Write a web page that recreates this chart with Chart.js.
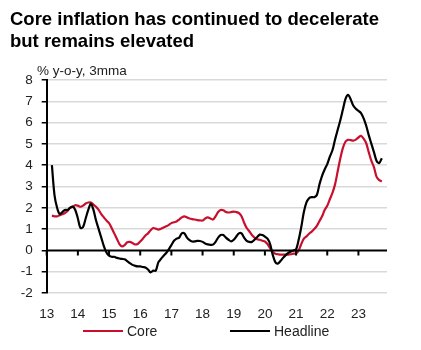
<!DOCTYPE html>
<html>
<head>
<meta charset="utf-8">
<script src="https://cdn.jsdelivr.net/npm/chart.js@4.4.1/dist/chart.umd.min.js"></script>
<style>
  html, body { margin: 0; padding: 0; background: #fff; }
  body { width: 421px; height: 350px; position: relative; overflow: hidden; font-family: "Liberation Sans", Arial, sans-serif; color: #111; }
  #title { position: absolute; left: 10px; top: 8px; font-size: 18.5px; font-weight: bold; line-height: 21.7px; color: #000; }
  #unit { position: absolute; left: 37px; top: 63px; font-size: 13.5px; color: #222; }
  #wrap { position: absolute; left: 0; top: 0; width: 421px; height: 350px; }
  .leg { position: absolute; top: 323px; font-size: 14px; color: #222; line-height: 16px; }
  .leg span { display: inline-block; width: 40px; height: 2px; vertical-align: middle; margin-right: 4px; position: relative; top: -1px; }
</style>
</head>
<body>
<div id="wrap"><canvas id="infl"></canvas></div>
<div id="title">Core inflation has continued to decelerate<br>but remains elevated</div>
<div id="unit">% y-o-y, 3mma</div>
<div class="leg" style="left:83px"><span style="background:#c8102e"></span>Core</div>
<div class="leg" style="left:230px"><span style="background:#000"></span>Headline</div>
<script>
// monthly, Jan 2013 .. Dec 2023
const years = ['13', '14', '15', '16', '17', '18', '19', '20', '21', '22', '23'];

const core = [null, null,
  1.63, 1.6, 1.6, 1.65, 1.7, 1.75, 1.85, 2.0, 2.05, 2.12,
  2.1, 2.05, 2.1, 2.2, 2.25, 2.25, 2.15, 2.05, 1.9, 1.7, 1.55, 1.4,
  1.28, 1.05, 0.8, 0.55, 0.3, 0.19, 0.25, 0.38, 0.4, 0.35, 0.28, 0.3,
  0.42, 0.55, 0.7, 0.8, 0.95, 1.05, 1.02, 0.98, 1.02, 1.08, 1.13, 1.2,
  1.28, 1.32, 1.36, 1.45, 1.55, 1.6, 1.55, 1.5, 1.47, 1.45, 1.42, 1.41,
  1.4, 1.5, 1.55, 1.5, 1.45, 1.6, 1.8, 1.9, 1.88, 1.8, 1.78, 1.8,
  1.82, 1.8, 1.75, 1.6, 1.3, 1.05, 0.9, 0.72, 0.6, 0.52, 0.5, 0.45,
  0.42, 0.3, 0.1, -0.08, -0.16, -0.18, -0.2, -0.2, -0.2, -0.2, -0.18, -0.15,
  -0.15, 0.0, 0.3, 0.55, 0.66, 0.78, 0.88, 1.0, 1.15, 1.38, 1.6, 1.9,
  2.1, 2.4, 2.7, 3.1, 3.7, 4.3, 4.8, 5.1, 5.19, 5.18, 5.15, 5.2,
  5.3, 5.38, 5.25, 5.03, 4.6, 4.2, 3.9, 3.45, 3.3, 3.24, null, null];

const headline = [null, null,
  4.0, 2.6, 2.0, 1.7, 1.8, 1.9, 1.9, 2.0, 2.05, 1.9,
  1.5, 1.05, 1.1, 1.5, 1.9, 2.2, 1.9, 1.4, 1.0, 0.6, 0.2, -0.1,
  -0.25, -0.3, -0.3, -0.35, -0.38, -0.4, -0.42, -0.5, -0.6, -0.68, -0.72, -0.75,
  -0.75, -0.78, -0.8, -0.9, -1.03, -0.95, -0.95, -0.55, -0.4, -0.25, -0.12, 0.05,
  0.25, 0.45, 0.55, 0.6, 0.8, 0.8, 0.6, 0.48, 0.42, 0.42, 0.45, 0.44,
  0.4, 0.32, 0.28, 0.26, 0.27, 0.4, 0.6, 0.72, 0.72, 0.6, 0.5, 0.42,
  0.5, 0.65, 0.8, 0.8, 0.6, 0.45, 0.4, 0.4, 0.5, 0.62, 0.74, 0.72,
  0.65, 0.55, 0.3, -0.2, -0.55, -0.62, -0.5, -0.35, -0.22, -0.12, -0.05, 0.0,
  0.05, 0.5, 1.1, 1.8, 2.25, 2.45, 2.5, 2.5, 2.6, 3.1, 3.5, 3.8,
  4.05, 4.4, 4.7, 5.2, 5.65, 6.1, 6.6, 7.1, 7.3, 7.1, 6.8, 6.65,
  6.55, 6.45, 6.2, 5.85, 5.4, 5.0, 4.6, 4.2, 4.1, 4.33, null, null];

const months = [];
years.forEach((y) => {
  for (let m = 1; m <= 12; m++) months.push(m === 1 ? y : y + '-' + m);
});

// x-axis sits at zero: draw the year tick marks there
const zeroTicks = {
  id: 'zeroTicks',
  afterDraw(chart) {
    const ctx = chart.ctx;
    const x = chart.scales.x, y = chart.scales.y;
    const y0 = y.getPixelForValue(0);
    ctx.save();
    ctx.strokeStyle = '#000';
    ctx.lineWidth = 2;
    ctx.beginPath();
    ctx.moveTo(x.left, y0);
    ctx.lineTo(x.right, y0);
    months.forEach((lab, i) => {
      if (i % 12 === 0) {
        const px = x.getPixelForValue(i);
        ctx.moveTo(px, y0);
        ctx.lineTo(px, y0 + 5);
      }
    });
    ctx.stroke();
    ctx.restore();
  }
};

const cv = document.getElementById('infl');
new Chart(cv, {
  type: 'line',
  data: {
    labels: months,
    datasets: [{
      label: 'Headline',
      data: headline,
      borderColor: '#000',
      borderWidth: 2.2,
      pointRadius: 0,
      tension: 0.3
    }, {
      label: 'Core',
      data: core,
      borderColor: '#c8102e',
      borderWidth: 2.2,
      pointRadius: 0,
      tension: 0.3
    }]
  },
  options: {
    responsive: true,
    maintainAspectRatio: false,
    animation: false,
    layout: { padding: { left: 0, right: 34, top: 80, bottom: 17 } },
    plugins: {
      legend: { display: false },
      tooltip: { enabled: false }
    },
    scales: {
      x: {
        offset: false,
        grid: { display: false },
        border: { display: false },
        ticks: {
          autoSkip: false,
          maxRotation: 0,
          padding: 5,
          color: '#222',
          font: { family: 'Liberation Sans', size: 13.5 },
          callback: (v, i) => (i % 12 === 0 ? months[i] : null)
        },
        afterFit: (s) => { s.height = 40; }
      },
      y: {
        min: -2,
        max: 8,
        ticks: {
          stepSize: 1,
          padding: 9,
          color: '#222',
          font: { family: 'Liberation Sans', size: 13.5 }
        },
        grid: {
          color: (c) => (c.tick && c.tick.value === 0 ? 'rgba(0,0,0,0)' : '#d9d9d9'),
          lineWidth: 1.5,
          tickLength: 5,
          tickColor: '#000'
        },
        border: { color: '#000', width: 2 },
        afterFit: (s) => { s.width = 46.7; }
      }
    }
  },
  plugins: [zeroTicks]
});
</script>
</body>
</html>
